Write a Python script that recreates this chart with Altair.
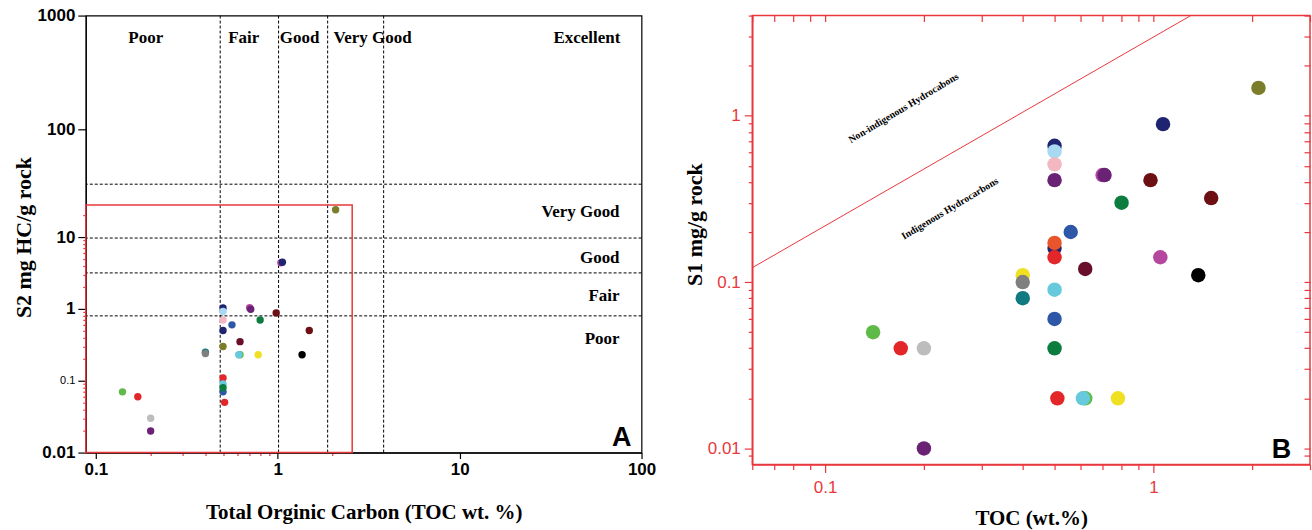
import altair as alt
import pandas as pd

FONT_SANS = "Liberation Sans"
FONT_SERIF = "Liberation Serif"
RED = "#e8383d"

OLIVE = "#7b7d2a"; NAVY = "#1f2470"; MAGENTA = "#b5479f"; PURPLE = "#6a2275"
LIGHTBLUE = "#a9d9f2"; PINK = "#f2b7c0"; BLUE = "#2e57a7"; MAROON = "#6d1014"
BURGUNDY = "#6a0f2b"; GREEN = "#0c7d3e"; LIGHTGREEN = "#5fba47"; BLACK = "#000000"
YELLOW = "#f0e022"; CYAN = "#67c9dc"; TEAL = "#0f7a7f"; GRAY = "#7f7f7f"
LIGHTGRAY = "#bdbdbd"; REDPT = "#e3262a"; ORANGE = "#e8552a"

# ---------------- Panel A : S2 vs TOC ----------------
a_toc = [2.08, 1.04, 1.06, 0.50, 0.50, 0.50, 0.50, 0.50, 0.56, 0.70, 0.71, 0.98, 0.80,
         0.62, 1.49, 1.36, 0.78, 0.62, 0.61, 0.40, 0.40, 0.50, 0.50, 0.50, 0.50, 0.51,
         0.14, 0.17, 0.20, 0.20]
a_s2 = [24, 4.4, 4.46, 1.03, 0.92, 0.70, 0.50, 0.30, 0.60, 1.04, 0.99, 0.88, 0.70,
        0.35, 0.50, 0.23, 0.23, 0.23, 0.23, 0.25, 0.24, 0.109, 0.09, 0.07, 0.08, 0.05,
        0.07, 0.06, 0.03, 0.02]
a_colors = [OLIVE, MAGENTA, NAVY, NAVY, LIGHTBLUE, PINK, NAVY, OLIVE, BLUE, MAGENTA, PURPLE,
            MAROON, GREEN, BURGUNDY, MAROON, BLACK, YELLOW, LIGHTGREEN, CYAN, TEAL, GRAY,
            REDPT, CYAN, BLUE, GREEN, REDPT, LIGHTGREEN, REDPT, LIGHTGRAY, PURPLE]

a_x_domain = [0.088, 100]
a_y_domain = [0.01, 12130]
a_x_major = [0.1, 1, 10, 100]
a_x_major_labels = ["0.1", "1", "10", "100"]
a_x_minor = [0.2, 0.3, 0.4, 0.5, 0.6, 0.7, 0.8, 0.9, 2]
a_y_major = [0.01, 0.1, 1, 10, 316, 12130]
a_y_major_labels = ["0.01", "0.1", "1", "10", "100", "1000"]
a_y_minor = [0.02, 0.03, 0.04, 0.05, 0.06, 0.07, 0.08, 0.09, 0.2, 0.3, 0.4, 0.5, 0.6,
             0.7, 0.8, 0.9, 2, 3, 4, 5, 6, 7, 8, 9, 20]

a_vlines = [0.4825, 1.01, 1.88, 3.82]
a_hlines = [54.5, 9.7, 3.17, 0.80]
a_inset = {"x": [0.088], "x2": [2.565], "y": [0.01], "y2": [27.9]}

a_top_labels = ["Poor", "Fair", "Good", "Very Good", "Excellent"]
a_top_x = [0.188, 0.65, 1.318, 3.32, 50.1]
a_top_y = [6000, 6000, 6000, 6000, 6000]
a_right_labels = ["Very Good", "Good", "Fair", "Poor"]
a_right_x = [75.7, 75.7, 75.7, 75.7]
a_right_y = [22.5, 5.12, 1.52, 0.384]

# ---------------- Panel B : S1 vs TOC ----------------
b_toc = [2.09, 1.07, 0.50, 0.50, 0.50, 0.50, 0.70, 0.71, 0.98, 0.80, 1.50, 0.56, 0.50,
         0.50, 0.50, 1.05, 0.62, 1.37, 0.40, 0.40, 0.40, 0.50, 0.50, 0.50, 0.14, 0.17,
         0.20, 0.51, 0.62, 0.61, 0.78, 0.20]
b_s1 = [1.47, 0.89, 0.66, 0.61, 0.51, 0.41, 0.44, 0.44, 0.41, 0.30, 0.32, 0.20, 0.16,
        0.172, 0.141, 0.141, 0.12, 0.11, 0.11, 0.10, 0.08, 0.09, 0.06, 0.04, 0.05, 0.04,
        0.04, 0.02, 0.02, 0.02, 0.02, 0.01]
b_colors = [OLIVE, NAVY, NAVY, LIGHTBLUE, PINK, PURPLE, MAGENTA, PURPLE, MAROON, GREEN,
            MAROON, BLUE, NAVY, ORANGE, REDPT, MAGENTA, BURGUNDY, BLACK, YELLOW, GRAY, TEAL,
            CYAN, BLUE, GREEN, LIGHTGREEN, REDPT, LIGHTGRAY, REDPT, LIGHTGREEN, CYAN, YELLOW,
            PURPLE]

b_x_domain = [0.06, 3.0]
b_y_domain = [0.008, 4.0]
b_x_major = [0.1, 1]
b_x_major_labels = ["0.1", "1"]
b_x_minor = [0.06, 0.07, 0.08, 0.09, 0.2, 0.3, 0.4, 0.5, 0.6, 0.7, 0.8, 0.9, 2, 3]
b_y_major = [0.01, 0.1, 1]
b_y_major_labels = ["0.01", "0.1", "1"]
b_y_minor = [0.009, 0.02, 0.03, 0.04, 0.05, 0.06, 0.07, 0.08, 0.09, 0.2, 0.3, 0.4, 0.5,
             0.6, 0.7, 0.8, 0.9, 2, 3, 4]

b_line_toc = [0.06, 1.3]
b_line_s1 = [0.122, 4.0]
b_notes = ["Non-indigenous Hydrocabons", "Indigenous Hydrocarbons"]
b_notes_x = [0.1734, 0.24]
b_notes_y = [1.11, 0.276]


def label_expr(values, labels):
    expr = "''"
    for v, l in reversed(list(zip(values, labels))):
        expr = f"datum.value == {v} ? '{l}' : ({expr})"
    return expr


def cond(values, major_value, minor_value):
    return {"condition": {"test": f"indexof({list(values)}, datum.value) >= 0",
                          "value": major_value},
            "value": minor_value}


# ---------- Panel A chart ----------
ax_scale = alt.Scale(type="log", domain=a_x_domain, nice=False)
ay_scale = alt.Scale(type="log", domain=a_y_domain, nice=False)

a_xaxis = alt.Axis(
    values=a_x_major + a_x_minor,
    labelExpr=label_expr(a_x_major, a_x_major_labels),
    labelFont=FONT_SANS, labelFontSize=17, labelFontWeight="bold", labelColor="black",
    labelPadding=3, labelOverlap=False, labelFlush=False,
    tickColor=cond(a_x_major, "black", RED), tickSize=cond(a_x_major, 6, 3),
    tickWidth=1.2, domainColor="black", domainWidth=1.2, grid=False,
    title="Total Orginic Carbon (TOC wt. %)", titleFont=FONT_SERIF, titleFontSize=21,
    titleFontWeight="bold", titleColor="black", titleBaseline="middle", titleY=60)

a_yaxis = alt.Axis(
    values=a_y_major + a_y_minor,
    labelExpr=label_expr(a_y_major, a_y_major_labels),
    labelFont=FONT_SANS,
    labelFontSize={"condition": {"test": "datum.value == 0.1", "value": 11}, "value": 17},
    labelFontWeight={"condition": {"test": "datum.value == 0.1", "value": "normal"},
                     "value": "bold"},
    labelColor="black", labelPadding=3, labelOverlap=False, labelFlush=False,
    tickColor=cond(a_y_major, "black", RED), tickSize=cond(a_y_major, 8, 3),
    tickWidth=1.2, domainColor="black", domainWidth=1.2, grid=False,
    title="S2 mg HC/g rock", titleFont=FONT_SERIF, titleFontSize=22, titleFontWeight="bold",
    titleColor="black", titleBaseline="middle", titleAngle=270, titleX=-62, titleY=222)

a_points_df = pd.DataFrame({"toc": a_toc, "s2": a_s2, "c": a_colors})
a_points = alt.Chart(a_points_df).mark_circle(size=55, opacity=1).encode(
    x=alt.X("toc:Q", scale=ax_scale, axis=a_xaxis),
    y=alt.Y("s2:Q", scale=ay_scale, axis=a_yaxis),
    color=alt.Color("c:N", scale=None),
)

a_vrules = alt.Chart(pd.DataFrame({"x": a_vlines})).mark_rule(
    color="black", strokeDash=[3, 2], strokeWidth=1).encode(
    x=alt.X("x:Q", scale=ax_scale, axis=None))
a_hrules = alt.Chart(pd.DataFrame({"y": a_hlines})).mark_rule(
    color="black", strokeDash=[3, 2], strokeWidth=1).encode(
    y=alt.Y("y:Q", scale=ay_scale, axis=None))
a_inset_rect = alt.Chart(pd.DataFrame(a_inset)).mark_rect(
    fillOpacity=0, stroke=RED, strokeWidth=1.5).encode(
    x=alt.X("x:Q", scale=ax_scale, axis=None), x2="x2:Q",
    y=alt.Y("y:Q", scale=ay_scale, axis=None), y2="y2:Q")
a_top_text = alt.Chart(pd.DataFrame({"t": a_top_labels, "x": a_top_x, "y": a_top_y})).mark_text(
    font=FONT_SERIF, fontSize=17, fontWeight="bold", color="black", baseline="middle",
    align="center").encode(
    x=alt.X("x:Q", scale=ax_scale, axis=None), y=alt.Y("y:Q", scale=ay_scale, axis=None),
    text="t:N")
a_right_text = alt.Chart(pd.DataFrame({"t": a_right_labels, "x": a_right_x, "y": a_right_y})).mark_text(
    font=FONT_SERIF, fontSize=17, fontWeight="bold", color="black", baseline="middle",
    align="right").encode(
    x=alt.X("x:Q", scale=ax_scale, axis=None), y=alt.Y("y:Q", scale=ay_scale, axis=None),
    text="t:N")
a_letter = alt.Chart(pd.DataFrame({"t": ["A"], "x": [88.1], "y": [0.0125]})).mark_text(
    font=FONT_SANS, fontSize=27, fontWeight="bold", color="black", baseline="alphabetic",
    align="right").encode(
    x=alt.X("x:Q", scale=ax_scale, axis=None), y=alt.Y("y:Q", scale=ay_scale, axis=None),
    text="t:N")

panel_a = alt.layer(a_vrules, a_hrules, a_inset_rect, a_points, a_top_text, a_right_text,
                    a_letter).resolve_axis(x="independent", y="independent").properties(
    width=557, height=438, view=alt.ViewBackground(stroke="black", strokeWidth=1.2))

# ---------- Panel B chart ----------
bx_scale = alt.Scale(type="log", domain=b_x_domain, nice=False)
by_scale = alt.Scale(type="log", domain=b_y_domain, nice=False)

b_xaxis = alt.Axis(
    orient="bottom",
    values=b_x_major + b_x_minor,
    labelExpr=label_expr(b_x_major, b_x_major_labels),
    labelFont=FONT_SANS, labelFontSize=17, labelColor=RED, labelPadding=7,
    labelOverlap=False, labelFlush=False,
    tickColor=RED, tickSize=cond(b_x_major, 8, 5), tickWidth=1.2,
    domainColor=RED, domainWidth=1.5, grid=False,
    title="TOC (wt.%)", titleFont=FONT_SERIF, titleFontSize=21, titleFontWeight="bold",
    titleColor="black", titleBaseline="middle", titleY=54)
b_yaxis = alt.Axis(
    orient="left",
    values=b_y_major + b_y_minor,
    labelExpr=label_expr(b_y_major, b_y_major_labels),
    labelFont=FONT_SANS, labelFontSize=17, labelColor=RED, labelPadding=4,
    labelOverlap=False, labelFlush=False,
    tickColor=RED, tickSize=cond(b_y_major, 8, 4), tickWidth=1.2,
    domainColor=RED, domainWidth=1.5, grid=False,
    title="S1 mg/g rock", titleFont=FONT_SERIF, titleFontSize=22, titleFontWeight="bold",
    titleColor="black", titleBaseline="middle", titleAngle=270, titleX=-58, titleY=209)
b_top_axis = alt.Axis(
    orient="top", values=b_x_major + b_x_minor, labels=False, domain=False,
    tickColor=RED, tickSize=6, tickWidth=1.2, offset=-6, grid=False, title=None)
b_right_axis = alt.Axis(
    orient="right", values=b_y_major + b_y_minor, labels=False, domain=False,
    tickColor=RED, tickSize=6, tickWidth=1.2, offset=-6, grid=False, title=None)

b_line = alt.Chart(pd.DataFrame({"x": b_line_toc, "y": b_line_s1})).mark_line(
    color=RED, strokeWidth=1, clip=True).encode(
    x=alt.X("x:Q", scale=bx_scale, axis=b_top_axis),
    y=alt.Y("y:Q", scale=by_scale, axis=b_right_axis))

b_points_df = pd.DataFrame({"toc": b_toc, "s1": b_s1, "c": b_colors})
b_points = alt.Chart(b_points_df).mark_circle(size=210, opacity=1).encode(
    x=alt.X("toc:Q", scale=bx_scale, axis=b_xaxis),
    y=alt.Y("s1:Q", scale=by_scale, axis=b_yaxis),
    color=alt.Color("c:N", scale=None),
)

b_notes_text = alt.Chart(pd.DataFrame({"t": b_notes, "x": b_notes_x, "y": b_notes_y})).mark_text(
    font=FONT_SERIF, fontSize=10, fontWeight="bold", color="black", angle=329,
    baseline="middle", align="center").encode(
    x=alt.X("x:Q", scale=bx_scale, axis=None), y=alt.Y("y:Q", scale=by_scale, axis=None),
    text="t:N")
b_letter = alt.Chart(pd.DataFrame({"t": ["B"], "x": [2.63], "y": [0.0088]})).mark_text(
    font=FONT_SANS, fontSize=27, fontWeight="bold", color="black", baseline="alphabetic",
    align="right").encode(
    x=alt.X("x:Q", scale=bx_scale, axis=None), y=alt.Y("y:Q", scale=by_scale, axis=None),
    text="t:N")

panel_b = alt.layer(b_line, b_points, b_notes_text, b_letter).resolve_axis(
    x="independent", y="independent").properties(
    width=559, height=450, view=alt.ViewBackground(stroke=RED, strokeWidth=1.5))

chart = alt.hconcat(panel_a, panel_b, spacing=111, bounds="flush").properties(
    padding={"left": 12, "top": 5, "right": 0, "bottom": 0},
    background="white",
)

chart.save("out.html", embed_options={"renderer": "svg", "actions": False})
